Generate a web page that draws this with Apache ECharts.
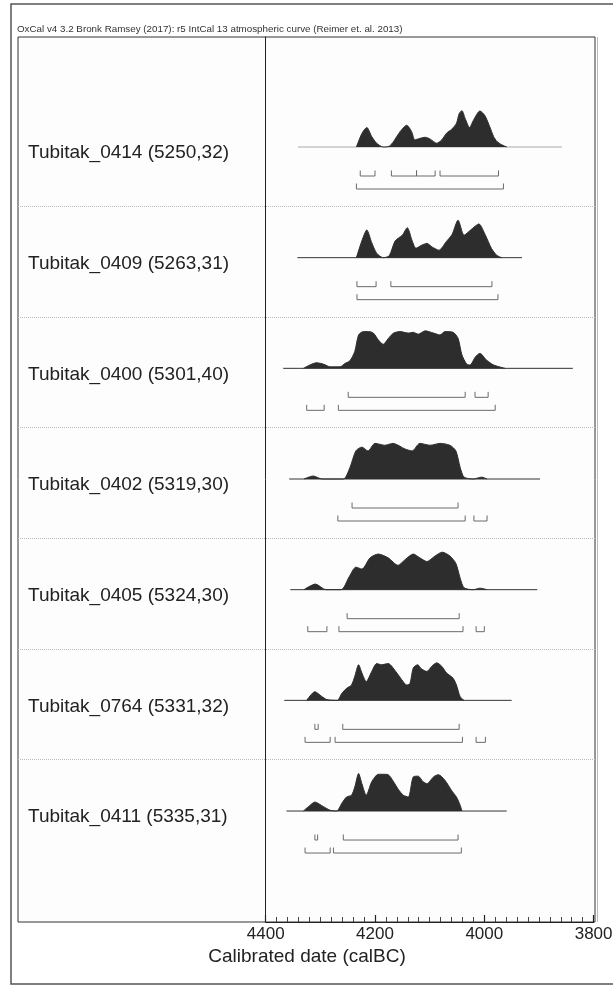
<!DOCTYPE html>
<html><head><meta charset="utf-8">
<script src="https://cdn.jsdelivr.net/npm/echarts@6.0.0/dist/echarts.min.js"></script>
<style>html,body{margin:0;padding:0;background:#fff}#c{width:613px;height:986px}</style>
</head><body><div id="c"></div>
<script>
// ---------- DATA ----------
const headerText = 'OxCal v4 3.2 Bronk Ramsey (2017): r5 IntCal 13 atmospheric curve (Reimer et. al. 2013)';
const axisTitle = 'Calibrated date (calBC)';
const sampleLabels = ['Tubitak_0414 (5250,32)','Tubitak_0409 (5263,31)','Tubitak_0400 (5301,40)','Tubitak_0402 (5319,30)','Tubitak_0405 (5324,30)','Tubitak_0764 (5331,32)','Tubitak_0411 (5335,31)'];
const axisMin = 3800, axisMax = 4400, axisStep = 200;

// probability curves: [calBC year, relative probability]
const curve0414 = [[4234,0],[4224,0.36],[4215,0.52],[4206,0.28],[4197,0.10],[4185,0],[4174,0.02],[4166,0.15],[4154,0.41],[4142,0.58],[4133,0.41],[4127,0.19],[4118,0.23],[4108,0.26],[4099,0.21],[4087,0.10],[4078,0.19],[4069,0.37],[4060,0.47],[4051,0.63],[4046,0.89],[4041,0.97],[4035,0.76],[4027,0.52],[4020,0.71],[4008,0.96],[3999,0.84],[3990,0.54],[3983,0.28],[3977,0.15],[3968,0.06],[3959,0]];
const curve0409 = [[4234,0],[4224,0.45],[4215,0.74],[4206,0.4],[4197,0.12],[4185,0],[4174,0.05],[4163,0.45],[4150,0.6],[4141,0.8],[4132,0.45],[4125,0.25],[4115,0.33],[4105,0.38],[4095,0.28],[4083,0.2],[4070,0.42],[4059,0.62],[4048,1.0],[4037,0.6],[4024,0.75],[4010,0.9],[3998,0.6],[3987,0.25],[3977,0.06],[3968,0]];
const curve0400 = [[4331,0],[4319,0.09],[4307,0.15],[4294,0.11],[4282,0.04],[4264,0.04],[4255,0.13],[4246,0.2],[4237,0.45],[4230,0.89],[4221,0.98],[4212,0.98],[4203,0.94],[4194,0.76],[4185,0.64],[4176,0.79],[4166,0.94],[4154,0.98],[4139,0.94],[4130,0.96],[4121,0.91],[4108,1.0],[4093,0.94],[4081,0.89],[4072,0.98],[4057,0.96],[4048,0.8],[4041,0.36],[4032,0.11],[4026,0.09],[4017,0.29],[4008,0.4],[3996,0.22],[3983,0.09],[3962,0]];
const curve0402 = [[4330,0],[4313,0.08],[4297,0],[4258,0],[4246,0.3],[4235,0.75],[4224,0.85],[4213,0.75],[4200,0.95],[4182,0.9],[4167,0.95],[4145,0.8],[4132,0.75],[4118,0.95],[4099,0.9],[4081,0.95],[4063,0.9],[4052,0.75],[4044,0.3],[4037,0.05],[4020,0],[4005,0.05],[3995,0]];
const curve0405 = [[4330,0],[4309,0.15],[4290,0],[4262,0],[4247,0.35],[4235,0.6],[4224,0.55],[4209,0.85],[4194,0.95],[4176,0.85],[4158,0.65],[4145,0.8],[4130,0.95],[4118,0.85],[4105,0.75],[4090,0.9],[4077,1.0],[4063,0.9],[4052,0.7],[4044,0.3],[4037,0.05],[4020,0],[4008,0.04],[3995,0]];
const curve0764 = [[4325,0],[4310,0.23],[4298,0.11],[4288,0.02],[4269,0],[4261,0.18],[4252,0.32],[4243,0.41],[4237,0.64],[4230,0.95],[4224,0.73],[4216,0.5],[4206,0.77],[4197,0.98],[4188,0.95],[4176,0.98],[4160,0.73],[4151,0.55],[4142,0.41],[4136,0.45],[4130,0.86],[4122,0.95],[4115,0.84],[4105,0.77],[4096,0.91],[4087,1.0],[4078,0.91],[4069,0.73],[4057,0.59],[4051,0.41],[4044,0.09],[4037,0]];
const curve0411 = [[4331,0],[4319,0.15],[4310,0.24],[4298,0.15],[4282,0.02],[4270,0],[4261,0.2],[4252,0.375],[4243,0.42],[4237,0.64],[4230,1.0],[4224,0.73],[4216,0.42],[4206,0.78],[4194,0.98],[4185,0.98],[4176,0.97],[4166,0.78],[4157,0.57],[4148,0.42],[4139,0.375],[4130,0.91],[4121,0.93],[4112,0.78],[4105,0.73],[4093,0.91],[4084,0.97],[4072,0.82],[4060,0.55],[4051,0.375],[4044,0.15],[4041,0]];
const curves = [curve0414,curve0409,curve0400,curve0402,curve0405,curve0764,curve0411];

// extent of the thin baseline under each curve [from, to] calBC
const baselineExtents = [[4341,3858],[4342,3931],[4368,3838],[4357,3898],[4355,3903],[4366,3950],[4362,3959]];

// 68.2% and 95.4% ranges [from, to] calBC
const ranges68 = [
  [[4227,4200],[4170,4124],[4124,4090],[4081,3974]],
  [[4233,4198],[4171,3986]],
  [[4249,4035],[4017,3993]],
  [[4242,4048]],
  [[4251,4046]],
  [[4310,4304],[4259,4046]],
  [[4310,4305],[4258,4048]]
];
const ranges95 = [
  [[4234,3965]],
  [[4233,3975]],
  [[4325,4293],[4267,3980]],
  [[4268,4035],[4019,3995]],
  [[4323,4288],[4266,4039],[4015,4000]],
  [[4328,4282],[4273,4040],[4015,3998]],
  [[4328,4282],[4276,4042]]
];

// ---------- LAYOUT ----------
const W = 613, H = 986;
const X_LEFT = 265.7, X_RIGHT = 593.6;
const FRAME_L = 18, FRAME_T = 37, FRAME_R = 595, FRAME_B = 922;
const BASE0 = 147, STEP = 110.67;
const PEAK_PX = 37.5, ABOVE = 42, BELOW = 50;
const L68 = -29 / PEAK_PX, L95 = -42 / PEAK_PX, TICK = 5.5 / PEAK_PX;
const FONT = '"Liberation Sans", Arial, sans-serif';

const chart = echarts.init(document.getElementById('c'), null, {renderer:'canvas', width:W, height:H});

const grids = [], xAxes = [], yAxes = [], series = [];
curves.forEach((cv, i) => {
  const base = BASE0 + i * STEP;
  grids.push({left:X_LEFT, right:W - X_RIGHT, top:base - ABOVE, height:ABOVE + BELOW, outerBoundsMode:'none', containLabel:false});
  xAxes.push({type:'value', gridIndex:i, min:axisMin, max:axisMax, inverse:true, show:false});
  yAxes.push({type:'value', gridIndex:i, min:-BELOW / PEAK_PX, max:ABOVE / PEAK_PX, show:false});
  const lineCol = i === 0 ? '#aaaaaa' : '#333333';
  series.push({type:'line', xAxisIndex:i, yAxisIndex:i, data:[[baselineExtents[i][0],0],[baselineExtents[i][1],0]],
    showSymbol:false, silent:true, lineStyle:{color:lineCol, width:1}, z:1});
  series.push({type:'line', xAxisIndex:i, yAxisIndex:i, data:cv, showSymbol:false, silent:true, smooth:0.25,
    lineStyle:{color:'#2d2d2d', width:1}, areaStyle:{color:'#2d2d2d', opacity:1}, z:2});
  [[ranges68[i], L68],[ranges95[i], L95]].forEach(([rs, lvl]) => {
    rs.forEach(r => {
      series.push({type:'line', xAxisIndex:i, yAxisIndex:i, showSymbol:false, silent:true,
        data:[[r[0], lvl + TICK],[r[0], lvl],[r[1], lvl],[r[1], lvl + TICK]],
        lineStyle:{color:'#6a6a6a', width:1}, z:2});
    });
  });
});
// bottom axis grid
const ai = curves.length;
grids.push({left:X_LEFT, right:W - X_RIGHT, top:FRAME_T, bottom:H - FRAME_B, outerBoundsMode:'none', containLabel:false});
xAxes.push({type:'value', gridIndex:ai, min:axisMin, max:axisMax, inverse:true, interval:axisStep, position:'bottom',
  axisLine:{show:true, onZero:false, lineStyle:{color:'#222', width:1}},
  axisTick:{show:true, inside:true, length:7, lineStyle:{color:'#222', width:1.2}},
  minorTick:{show:true, splitNumber:10, length:5, lineStyle:{color:'#444', width:1}},
  axisLabel:{show:true, color:'#222', fontSize:17, fontFamily:FONT, margin:4, formatter:v => String(v)},
  splitLine:{show:false}});
yAxes.push({type:'value', gridIndex:ai, min:0, max:1, axisLine:{show:true, lineStyle:{color:'#222', width:1}},
  axisTick:{show:false}, axisLabel:{show:false}, splitLine:{show:false}});

const graphics = [];
graphics.push({type:'rect', z:-10, shape:{x:0, y:0, width:W, height:H}, style:{fill:'#ffffff'}});
graphics.push({type:'rect', z:-9, shape:{x:11, y:4, width:W + 10, height:980}, style:{fill:'#ffffff', stroke:'#555', lineWidth:1.5}});
graphics.push({type:'rect', z:-8, shape:{x:FRAME_L, y:FRAME_T, width:FRAME_R - FRAME_L, height:FRAME_B - FRAME_T}, style:{fill:'#fdfdfd', stroke:'#333', lineWidth:1}});
graphics.push({type:'line', z:-7, shape:{x1:FRAME_R + 2.5, y1:FRAME_T, x2:FRAME_R + 2.5, y2:FRAME_B}, style:{stroke:'#bbbbbb', lineWidth:1}});
for (let i = 0; i < curves.length - 1; i++) {
  const y = Math.round(BASE0 + i * STEP + 59) + 0.5;
  graphics.push({type:'line', z:-7, shape:{x1:FRAME_L, y1:y, x2:FRAME_R, y2:y}, style:{stroke:'#bbbbbb', lineWidth:1, lineDash:[1,1]}});
}
graphics.push({type:'text', z:5, x:17, y:29, style:{text:headerText, fontSize:9.8, fontFamily:FONT, fill:'#333', verticalAlign:'middle'}});
sampleLabels.forEach((t, i) => {
  graphics.push({type:'text', z:5, x:28, y:BASE0 + i * STEP + 6, style:{text:t, fontSize:19, fontFamily:FONT, fill:'#222', verticalAlign:'middle'}});
});
graphics.push({type:'text', z:5, x:307, y:957, style:{text:axisTitle, fontSize:19, fontFamily:FONT, fill:'#222', align:'center', verticalAlign:'middle'}});

chart.setOption({
  animation:false,
  backgroundColor:'#ffffff',
  grid:grids, xAxis:xAxes, yAxis:yAxes, series:series, graphic:graphics
});
</script></body></html>
